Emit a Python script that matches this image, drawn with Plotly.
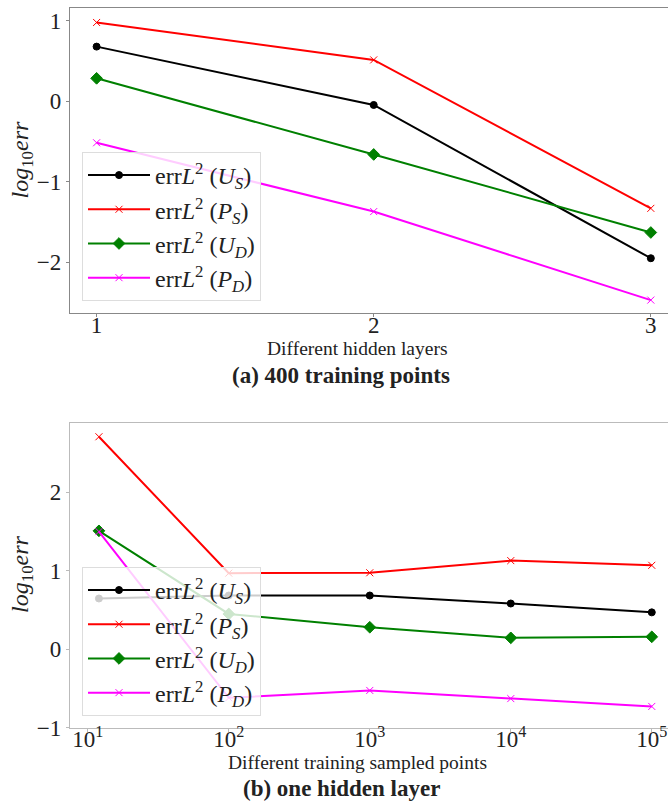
import plotly.graph_objects as go

# ---- data ----
layers = [1, 2, 3]
layer_labels = ["1", "2", "3"]
top_US = [0.68, -0.045, -1.95]
top_PS = [0.98, 0.515, -1.33]
top_UD = [0.286, -0.66, -1.63]
top_PD = [-0.515, -1.37, -2.47]

points = [12, 100, 1000, 10000, 100000]
point_ticks = [10, 100, 1000, 10000, 100000]
point_labels = ["10<sup>1</sup>", "10<sup>2</sup>", "10<sup>3</sup>",
                "10<sup>4</sup>", "10<sup>5</sup>"]
bot_US = [0.647, 0.685, 0.685, 0.583, 0.47]
bot_PS = [2.71, 0.97, 0.975, 1.13, 1.07]
bot_UD = [1.51, 0.45, 0.28, 0.145, 0.158]
bot_PD = [1.5, -0.62, -0.526, -0.63, -0.73]

names = ["err<i>L</i><sup>2</sup> (<i>U</i><sub><i>S</i></sub>)",
         "err<i>L</i><sup>2</sup> (<i>P</i><sub><i>S</i></sub>)",
         "err<i>L</i><sup>2</sup> (<i>U</i><sub><i>D</i></sub>)",
         "err<i>L</i><sup>2</sup> (<i>P</i><sub><i>D</i></sub>)"]
colors = ["black", "red", "green", "magenta"]
symbols = ["circle", "x-thin-open", "diamond", "x-thin-open"]
msizes = [7, 7, 9, 7]

FONT = "Liberation Serif"
W, H = 668, 806
K = 0.984  # observed vertical render factor

fig = go.Figure()

def add_series(xs, ys_list, xa, ya, legend):
    for i, ys in enumerate(ys_list):
        fig.add_trace(go.Scatter(
            x=xs, y=ys, mode="lines+markers", name=names[i],
            line=dict(color=colors[i], width=2),
            marker=dict(symbol=symbols[i], size=msizes[i], color=colors[i],
                        line=dict(color=colors[i], width=1)),
            xaxis=xa, yaxis=ya, legend=legend,
            legendgroup=legend + str(i),
        ))

add_series(layers, [top_US, top_PS, top_UD, top_PD], "x", "y", "legend")
add_series(points, [bot_US, bot_PS, bot_UD, bot_PD], "x2", "y2", "legend2")

# empty carrier traces so the tick-label axes get drawn
fig.add_trace(go.Scatter(x=layers, y=[None] * len(layers), mode="markers",
                         xaxis="x3", yaxis="y", showlegend=False, hoverinfo="skip"))
fig.add_trace(go.Scatter(x=point_ticks, y=[None] * len(point_ticks), mode="markers",
                         xaxis="x4", yaxis="y2", showlegend=False, hoverinfo="skip"))

def px_x(p):
    return p / W

def px_y(p):
    return 1 - (p / K) / H

tickfont = dict(family=FONT, size=23, color="#222")
common_axis = dict(showgrid=False, zeroline=False, tickfont=tickfont)

legend_common = dict(bgcolor="rgba(255,255,255,0.8)", bordercolor="#dddddd",
                     borderwidth=1, font=dict(family=FONT, size=24, color="#222"),
                     tracegroupgap=0, xanchor="left", yanchor="top",
                     itemwidth=62)

X1_RANGE = [0.904, 3.062]
X2_RANGE = [0.874, 5.115]

fig.update_layout(
    width=W, height=H,
    margin=dict(l=0, r=0, t=0, b=0),
    paper_bgcolor="white", plot_bgcolor="white",
    showlegend=True,
    xaxis=dict(domain=[px_x(70), 1.0], range=X1_RANGE, anchor="y",
               tickvals=layers, showticklabels=False, ticks="outside", ticklen=3,
               showline=True, linecolor="#888888", linewidth=1.3, mirror=True,
               tickcolor="#888888", **common_axis),
    xaxis3=dict(domain=[px_x(70), 1.0], range=X1_RANGE, overlaying="x",
                anchor="free", position=px_y(309), side="bottom",
                tickvals=layers, ticktext=layer_labels, ticks="",
                showline=False, **common_axis),
    yaxis=dict(domain=[px_y(313), px_y(8)], range=[-2.63, 1.16], anchor="x",
               tickvals=[-2, -1, 0, 1], ticks="outside", ticklen=3,
               showline=True, linecolor="#888888", linewidth=1.3,
               tickcolor="#888888", **common_axis),
    xaxis2=dict(domain=[px_x(70), 1.0], type="log", range=X2_RANGE, anchor="y2",
                tickvals=point_ticks, showticklabels=False, ticks="outside", ticklen=3,
                showline=True, linecolor="#bbbbbb", linewidth=1.3, mirror=True,
                tickcolor="#bbbbbb", **common_axis),
    xaxis4=dict(domain=[px_x(70), 1.0], type="log", range=X2_RANGE, overlaying="x2",
                anchor="free", position=px_y(723), side="bottom",
                tickvals=point_ticks, ticktext=point_labels, ticks="",
                showline=False, **common_axis),
    yaxis2=dict(domain=[px_y(727.7), px_y(422.7)], range=[-1, 2.89], anchor="x2",
                tickvals=[-1, 0, 1, 2], ticks="outside", ticklen=3,
                showline=True, linecolor="#bbbbbb", linewidth=1.3,
                tickcolor="#bbbbbb", **common_axis),
    legend=dict(x=px_x(82), y=px_y(152), **legend_common),
    legend2=dict(x=px_x(82), y=px_y(567), **legend_common),
)

annotations = [
    dict(text="Different hidden layers", x=px_x(358), y=px_y(349), size=19.5),
    dict(text="<b>(a) 400 training points</b>", x=px_x(341), y=px_y(376), size=23),
    dict(text="Different training sampled points", x=px_x(358), y=px_y(763), size=19.5),
    dict(text="<b>(b) one hidden layer</b>", x=px_x(341), y=px_y(789), size=23),
]
for a in annotations:
    fig.add_annotation(xref="paper", yref="paper", showarrow=False,
                       xanchor="center", yanchor="middle",
                       font=dict(family=FONT, size=a["size"], color="#222"),
                       text=a["text"], x=a["x"], y=a["y"])

for yc in (160.5, 575):
    fig.add_annotation(xref="paper", yref="paper", showarrow=False,
                       x=px_x(22), y=px_y(yc), textangle=-90,
                       xanchor="center", yanchor="middle",
                       text="<i>log</i><sub>10</sub><i>err</i>",
                       font=dict(family=FONT, size=24, color="#222"))

fig.write_html("out.html")
